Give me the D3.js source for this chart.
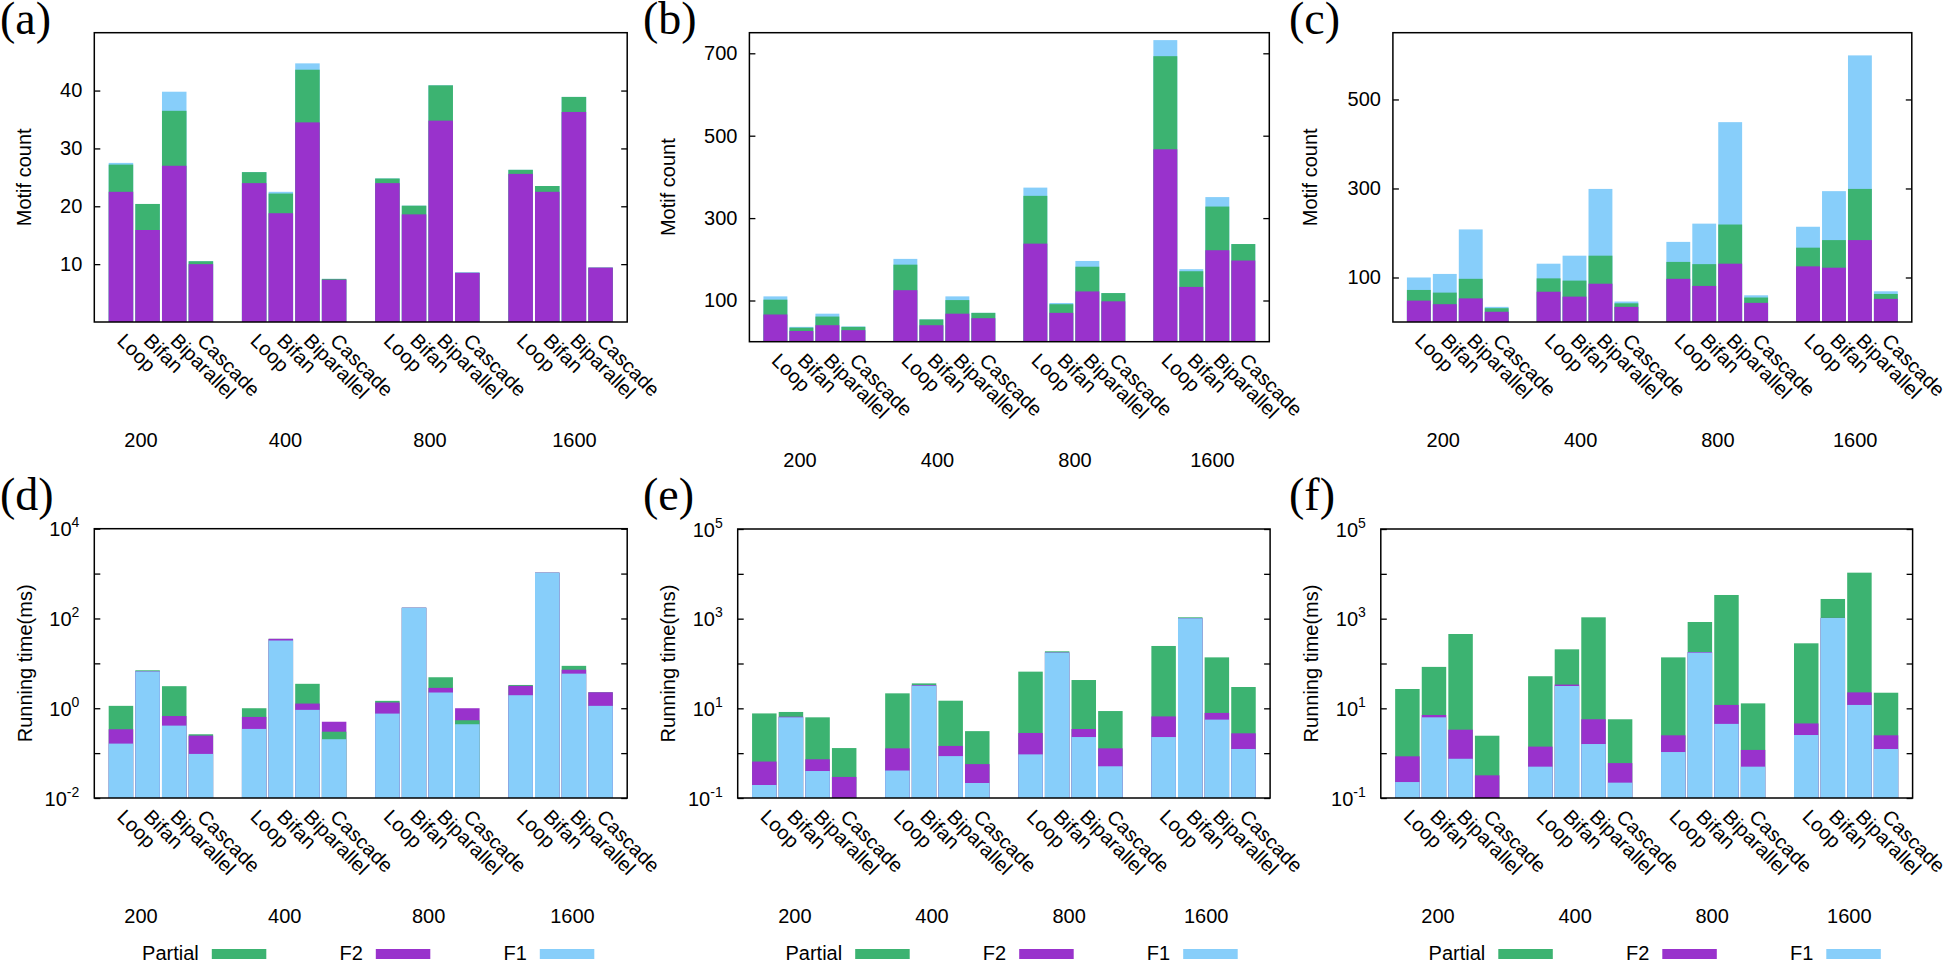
<!DOCTYPE html>
<html><head><meta charset="utf-8">
<script src="https://cdn.jsdelivr.net/npm/d3@7/dist/d3.min.js"></script>
<style>
html,body{margin:0;padding:0;background:#fff;}
svg{display:block;font-family:"Liberation Sans",Arial,Helvetica,sans-serif;}
</style></head>
<body>
<svg id="chart" width="1943" height="961"></svg>
<script>
// ---------- data ----------
const groups = ["200", "400", "800", "1600"];
const motifs = ["Loop", "Bifan", "Biparallel", "Cascade"];
const seriesNames = ["Partial", "F2", "F1"];
const seriesColors = ["#3cb371", "#9932cc", "#87cefa"];

// values in group-major order: 200(Loop,Bifan,Biparallel,Cascade), 400(...), 800(...), 1600(...)
// (a) Motif count
const aF2      = [22.5, 15.9, 27.0, 10.0,  24.0, 18.8, 34.5, 7.3,   24.0, 18.6, 34.8, 8.5,   25.6, 22.5, 36.3, 9.4];
const aPartial = [27.2, 20.4, 36.5, 10.5,  25.9, 22.2, 43.6, 7.45,  24.8, 20.1, 40.9, 8.5,   26.3, 23.5, 38.9, 9.4];
const aF1      = [27.5, 20.4, 39.8, 10.5,  25.9, 22.5, 44.7, 7.45,  24.8, 20.1, 40.9, 8.6,   26.3, 23.5, 38.9, 9.4];
// (b) Motif count
const bF2      = [66, 26, 40, 28,    125, 40, 68, 57,    238, 70, 122, 98,    467, 133, 222, 197];
const bPartial = [102, 34, 61, 36,   187, 54, 101, 70,   354, 91, 182, 118,   693, 171, 328, 237];
const bF1      = [110, 36, 68, 37,   201, 54, 110, 70,   374, 94, 196, 118,   732, 176, 351, 237];
// (c) Motif count
const cF2      = [48, 40, 53, 23,     68, 57, 86, 34,     97, 81, 131, 43,     125, 122, 184, 52];
const cPartial = [72, 66, 97, 31,     98, 93, 149, 42,    135, 130, 219, 55,   167, 184, 299, 63];
const cF1      = [100, 108, 208, 34,  131, 149, 299, 46,  180, 221, 449, 60,   214, 294, 599, 69];
// (d) Running time (ms)
const dF1      = [0.163, 6.6, 0.41, 0.096,  0.346, 32.3, 0.92, 0.204,  0.76, 173, 2.24, 0.44,  1.95, 1044, 5.9, 1.13];
const dF2      = [0.34, 6.65, 0.67, 0.245,  0.64, 35.2, 1.27, 0.50,    1.34, 174, 2.84, 1.0,   3.15, 1050, 7.2, 2.27];
const dPartial = [1.13, 7.0, 3.1, 0.263,    1.0, 35.2, 3.5, 0.30,      1.46, 174, 4.9, 0.54,   3.3, 1050, 8.8, 2.27];
// (e) Running time (ms)
const eF1      = [0.195, 6.3, 0.40, 0.09,  0.41, 32, 0.86, 0.216,  0.94, 175, 2.29, 0.51,  2.29, 1017, 5.6, 1.24];
const eF2      = [0.65, 6.5, 0.73, 0.295,  1.28, 33, 1.45, 0.57,   2.82, 176, 3.46, 1.28,  6.6, 1020, 7.9, 2.77];
const ePartial = [7.7, 8.3, 6.3, 1.30,     21.6, 36, 14.8, 3.1,    65.8, 187, 42.8, 8.7,   246, 1072, 137, 29.9];
// (f) Running time (ms)
const fF1      = [0.227, 6.3, 0.75, 0.09,  0.50, 31.5, 1.6, 0.22,   1.06, 175, 4.5, 0.50,   2.54, 1035, 11.9, 1.24];
const fF2      = [0.85, 7.1, 3.34, 0.32,   1.40, 33.9, 5.7, 0.60,   2.5, 180, 11.9, 1.18,   4.6, 1040, 22.7, 2.5];
const fPartial = [27, 84, 455, 2.45,       52, 207, 1072, 5.7,      137, 843, 3375, 12.9,   282, 2750, 10620, 22.3];

// ---------- layout ----------
const panels = [
  {id:"(a)", F1:aF1, F2:aF2, Partial:aPartial, log:false, domain:[0,50], ticks:[10,20,30,40],
   left:94.3, right:627.2, top:32.7, bottom:322, ylab:"Motif count", ylabX:24, letterX:0, letterY:34, la:46.7, lb:144.5, legend:false},
  {id:"(b)", F1:bF1, F2:bF2, Partial:bPartial, log:false, domain:[0,750], ticks:[100,300,500,700],
   left:749.4, right:1269.3, top:32.7, bottom:341.7, ylab:"Motif count", ylabX:667.5, letterX:643, letterY:34, la:50.6, lb:137.5, legend:false},
  {id:"(c)", F1:cF1, F2:cF2, Partial:cPartial, log:false, domain:[0,650], ticks:[100,300,500],
   left:1392.9, right:1911.8, top:32.7, bottom:322, ylab:"Motif count", ylabX:1310, letterX:1289, letterY:34, la:50.4, lb:137.3, legend:false},
  {id:"(d)", F1:dF1, F2:dF2, Partial:dPartial, log:true, domain:[1e-2,1e4], labelled:[4,2,0,-2],
   left:94.3, right:627.2, top:528.7, bottom:798, ylab:"Running time(ms)", ylabX:25, letterX:0, letterY:510, la:46.7, lb:143.8, legend:true},
  {id:"(e)", F1:eF1, F2:eF2, Partial:ePartial, log:true, domain:[1e-1,1e5], labelled:[5,3,1,-1],
   left:737.7, right:1270.1, top:529, bottom:798, ylab:"Running time(ms)", ylabX:668, letterX:643, letterY:510, la:57.2, lb:137.1, legend:true},
  {id:"(f)", F1:fF1, F2:fF2, Partial:fPartial, log:true, domain:[1e-1,1e5], labelled:[5,3,1,-1],
   left:1380.8, right:1912.6, top:529, bottom:798, ylab:"Running time(ms)", ylabX:1311, letterX:1289, letterY:510, la:57.2, lb:137.1, legend:true}
];

const svg = d3.select("#chart");
const color = d3.scaleOrdinal().domain(seriesNames).range(seriesColors);
const drawOrder = ["F1", "Partial", "F2"]; // tie-break: earlier drawn further back

function drawPanel(p) {
  const g = svg.append("g");
  const x0 = d3.scaleBand().domain(groups).range([p.left, p.right]).paddingInner(0.2).paddingOuter(0.1);
  const x1 = d3.scaleBand().domain(motifs).range([0, x0.bandwidth()]).paddingInner(0.08).paddingOuter(0.04);
  const y = p.log
    ? d3.scaleLog().domain(p.domain).range([p.bottom, p.top]).clamp(true)
    : d3.scaleLinear().domain(p.domain).range([p.bottom, p.top]).clamp(true);
  const base = p.bottom;

  // bars (each series from the baseline, largest drawn behind)
  const cells = [];
  groups.forEach((gr, gi) => motifs.forEach((m, mi) => {
    const items = drawOrder.map(s => ({s, v: p[s][gi * 4 + mi]}));
    items.sort((a, b) => b.v - a.v);
    items.forEach(it => cells.push({gr, m, s: it.s, v: it.v}));
  }));
  g.append("g").selectAll("rect").data(cells).join("rect")
    .attr("x", d => x0(d.gr) + x1(d.m))
    .attr("width", x1.bandwidth())
    .attr("y", d => y(d.v))
    .attr("height", d => Math.max(0, base - y(d.v)))
    .attr("fill", d => color(d.s));

  // y axes (inward ticks, mirrored)
  let tickVals, fmt;
  if (p.log) {
    const lo = Math.round(Math.log10(p.domain[0])), hi = Math.round(Math.log10(p.domain[1]));
    tickVals = d3.range(lo, hi + 1).map(e => Math.pow(10, e));
    fmt = () => "";
  } else {
    tickVals = p.ticks;
    fmt = d3.format("d");
  }
  const ax = g.append("g").attr("transform", `translate(${p.left},0)`)
    .call(d3.axisLeft(y).tickValues(tickVals).tickFormat(fmt).tickSize(-6).tickPadding(12));
  ax.select(".domain").remove();
  ax.selectAll("line").attr("stroke", "#000").attr("stroke-width", 1.3);
  ax.selectAll("text").attr("font-size", 20).attr("fill", "#000")
    .attr("font-family", '"Liberation Sans",Arial,sans-serif');
  if (p.log) {
    ax.selectAll(".tick").each(function(d) {
      const e = Math.round(Math.log10(d));
      const t = d3.select(this).select("text");
      if (p.labelled.includes(e)) {
        t.attr("x", -15).attr("dy", null).attr("y", 7).text(null);
        t.append("tspan").text("10");
        t.append("tspan").attr("font-size", 14).attr("dy", -9).text(String(e));
      }
    });
  }
  const axr = g.append("g").attr("transform", `translate(${p.right},0)`)
    .call(d3.axisRight(y).tickValues(tickVals).tickFormat("").tickSize(-6));
  axr.select(".domain").remove();
  axr.selectAll("line").attr("stroke", "#000").attr("stroke-width", 1.3);

  // frame
  g.append("rect").attr("x", p.left).attr("y", p.top)
    .attr("width", p.right - p.left).attr("height", p.bottom - p.top)
    .attr("fill", "none").attr("stroke", "#000").attr("stroke-width", 1.5);

  // rotated motif labels
  const lab = [];
  groups.forEach(gr => motifs.forEach(m => lab.push({gr, m})));
  g.append("g").selectAll("text").data(lab).join("text")
    .attr("transform", d => {
      const cx = x0(d.gr) + x1(d.m) + x1.bandwidth() / 2 - 5;
      return `translate(${cx},${p.bottom + 20}) rotate(45)`;
    })
    .attr("font-size", 20).attr("fill", "#000")
    .text(d => d.m);

  // group labels
  const gx = d3.scaleLinear().domain([0, groups.length - 1]).range([p.left + p.la, p.left + p.la + 3 * p.lb]);
  g.append("g").selectAll("text").data(groups).join("text")
    .attr("x", (d, i) => gx(i)).attr("y", p.bottom + 125)
    .attr("text-anchor", "middle").attr("font-size", 20).text(d => d);

  // y label
  g.append("text")
    .attr("transform", `translate(${p.ylabX},${(p.top + p.bottom) / 2}) rotate(-90)`)
    .attr("text-anchor", "middle").attr("dominant-baseline", "central")
    .attr("font-size", 20).text(p.ylab);

  // panel letter
  g.append("text").attr("x", p.letterX).attr("y", p.letterY)
    .attr("font-family", '"Liberation Serif","Times New Roman",serif')
    .attr("font-size", 46).text(p.id);

  // legend
  if (p.legend) {
    const lx = d3.scaleLinear().domain([0, 2]).range([p.left + 117.5, p.left + 117.5 + 2 * 164]);
    const lg = g.append("g");
    seriesNames.forEach((s, i) => {
      lg.append("rect").attr("x", lx(i)).attr("y", 949).attr("width", 54.5).attr("height", 10)
        .attr("fill", color(s));
      lg.append("text").attr("x", lx(i) - 13).attr("y", 960).attr("text-anchor", "end")
        .attr("font-size", 20).text(s);
    });
  }
}

panels.forEach(drawPanel);
</script>
</body></html>
